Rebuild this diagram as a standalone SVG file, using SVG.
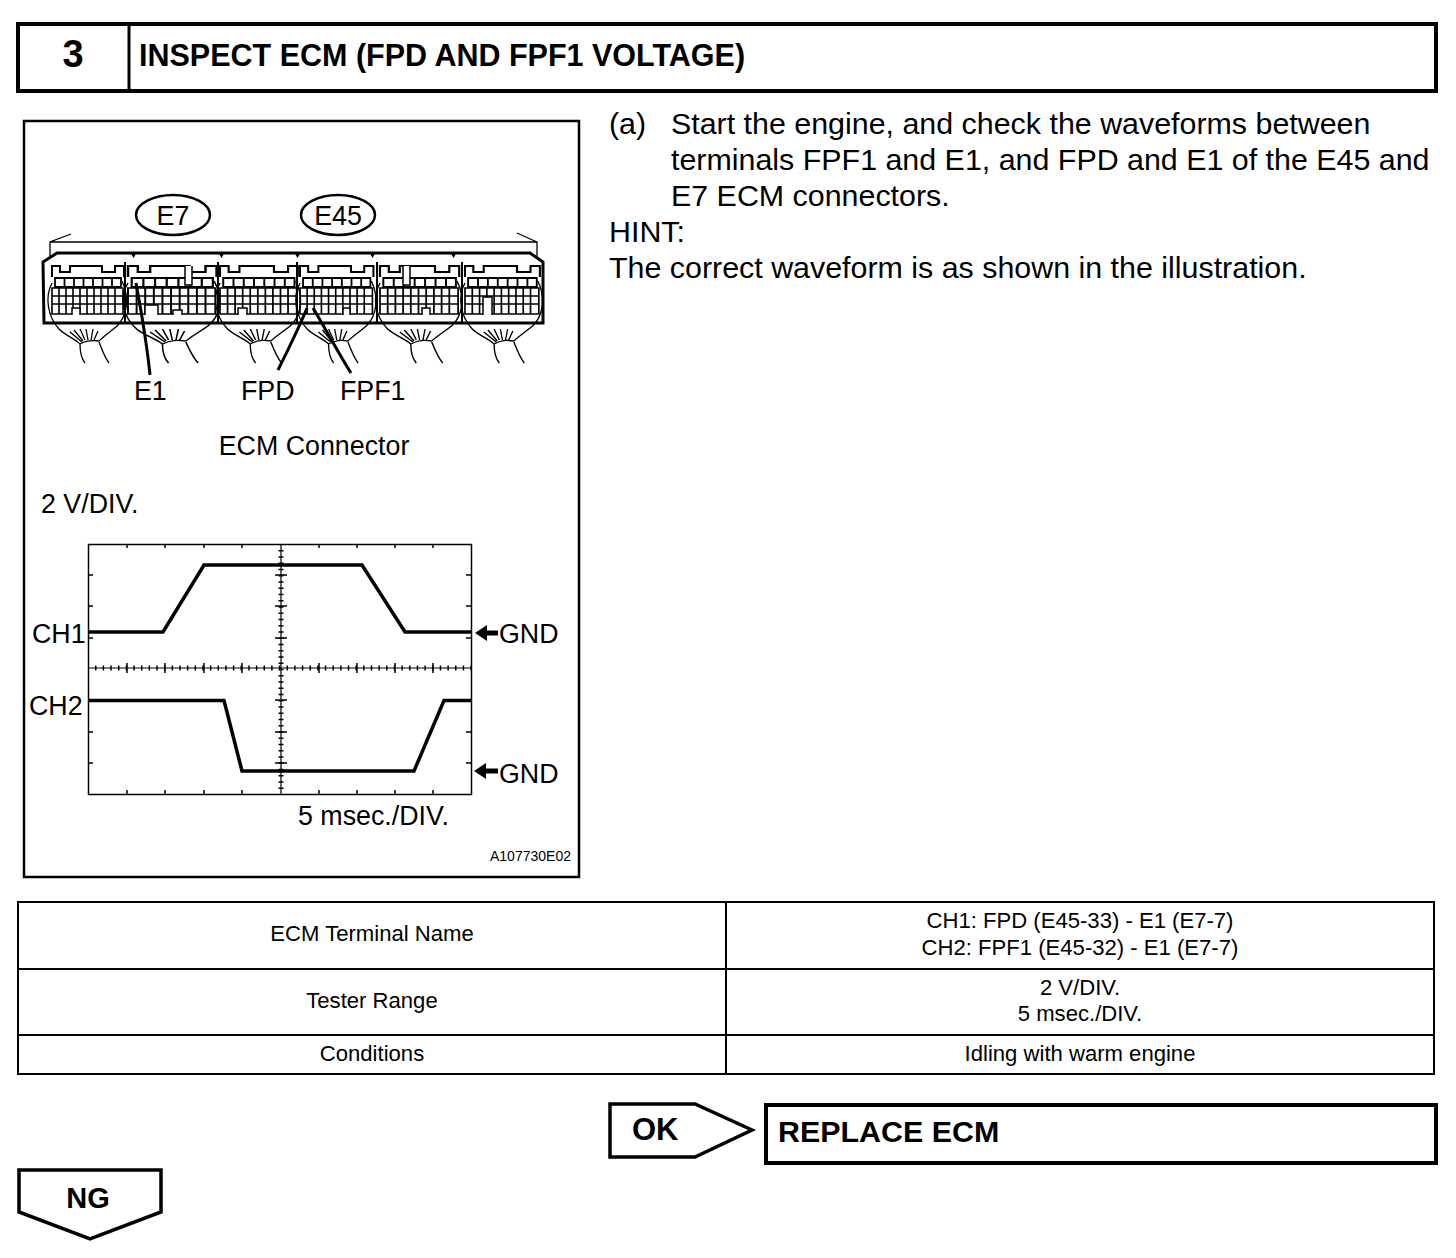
<svg xmlns="http://www.w3.org/2000/svg" width="1456" height="1258" viewBox="0 0 1456 1258">
<style>
text{font-family:"Liberation Sans",Arial,sans-serif;fill:#000}
.b{font-weight:bold}
.m{font-size:30.4px}
.d{font-size:26.8px}
.t{font-size:22.1px;text-anchor:middle}
.box{fill:#fff;stroke:#000}
.ln{fill:none;stroke:#000}
</style>
<defs>
<g id="conn" fill="none" stroke="#000">
<path stroke-width="2" d="M0,11V0H8V6H18V0H50V6H63V0H72V11"/>
<path stroke-width="1.800" d="M3,12H69V21H3ZM12.500,12V21M22,12V21M31.500,12V21M41,12V21M50.500,12V21M60,12V21"/>
<path stroke-width="1.600" d="M0,22H71V48H0ZM0,30H71M0,38H71M7,22V48M14,22V48M21,22V48M28,22V48M35,22V48M42,22V48M49,22V48M56,22V48M63,22V48"/>
<path stroke-width="1.300" d="M0,17C-7,30-5,50 7,63C14,70 22,72 28,78M70,15C78,32 75,50 65,60C58,66 52,70 47,75M28,78C35,74 40,74 47,75M28,78C28,85 29,92 33,97M47,76C50,84 53,92 57,97M30,76L18,66M31,75L22,64M33,74L28,63M36,74L34,63M39,74L41,63M42,74L46,65"/>
</g>
</defs>
<g id="header">
<rect class="box" x="18" y="24" width="1418" height="67" stroke-width="4"/>
<path class="ln" stroke-width="3" d="M129,24V91"/>
<text class="b" x="73" y="67" font-size="38" text-anchor="middle">3</text>
<text class="b" x="139" y="66" font-size="30.500">INSPECT ECM (FPD AND FPF1 VOLTAGE)</text>
</g>
<g id="illustration">
<rect class="box" x="24" y="121" width="555" height="756" stroke-width="2.500"/>
<path class="ln" stroke-width="1.300" d="M71,234L50,242V257M50,242H537V257M537,242L517,233"/>
<path class="ln" stroke-width="3" d="M57,253H530L543,262V323H44L43,262Z"/>
<path class="ln" stroke-width="2" d="M125,262V323M218,262V323M297,262V323M377,262V323M462,262V323"/>
<path d="M130,252h7l-3.500,6ZM218,252h7l-3.500,6ZM294,252h7l-3.500,6ZM369,252h7l-3.500,6ZM450,252h7l-3.500,6Z"/>
<use href="#conn" transform="translate(52,266)"/>
<use href="#conn" transform="translate(128,266) scale(1.230,1)"/>
<use href="#conn" transform="translate(220,266) scale(1.080,1)"/>
<use href="#conn" transform="translate(300,266) scale(1.020,1)"/>
<use href="#conn" transform="translate(380,266) scale(1.100,1)"/>
<use href="#conn" transform="translate(465,266) scale(1.040,1)"/>
<path fill="#fff" stroke="#000" stroke-width="1.500" d="M72,315V308H80V315M145,315V305H158V315M173,315V310H182V315M185,266V285H192V266M238,315V308H247V315M343,315V308H350V315M422,315V308H430V315M403,266V285H410V266M483,315V297H492V315"/>
<path class="ln" stroke-width="3" d="M136,283C141,310 147,345 150,375M307,308C298,330 288,350 278,370M313,308C325,328 338,352 351,373"/>
<g id="E7"><ellipse class="box" cx="173" cy="215" rx="37" ry="20" stroke-width="2.500"/><text class="d" x="173" y="225" text-anchor="middle">E7</text></g>
<g id="E45"><ellipse class="box" cx="338" cy="215" rx="37" ry="20" stroke-width="2.500"/><text class="d" x="338" y="225" text-anchor="middle">E45</text></g>
<text class="d" x="134" y="400">E1</text>
<text class="d" x="241" y="400">FPD</text>
<text class="d" x="340" y="400">FPF1</text>
<text class="d" x="314" y="455" text-anchor="middle">ECM Connector</text>
<text class="d" x="41" y="513">2 V/DIV.</text>
<g id="scope">
<rect x="88.500" y="544.500" width="383" height="250" fill="none" stroke="#000" stroke-width="1.500"/>
<path class="ln" stroke-width="1.200" d="M88,668H471M281,544V794"/>
<path class="ln" stroke-width="1.500" d="M127,544v4M165,544v4M204,544v4M242,544v4M319,544v4M357,544v4M395,544v4M433,544v4M127,794v-4M165,794v-4M204,794v-4M242,794v-4M319,794v-4M357,794v-4M395,794v-4M433,794v-4M88,575h5M88,606h5M88,638h5M88,700h5M88,732h5M88,763h5M471,575h-5M471,606h-5M471,638h-5M471,700h-5M471,732h-5M471,763h-5"/>
<path class="ln" stroke-width="1.500" d="M127,663v10M165,663v10M204,663v10M242,663v10M319,663v10M357,663v10M395,663v10M433,663v10M275,575h12M275,606h12M275,638h12M275,700h12M275,732h12M275,763h12"/>
<path class="ln" stroke-width="5" stroke-dasharray="1.500 6.160" d="M95,668H471"/>
<path class="ln" stroke-width="5" stroke-dasharray="1.500 4.750" d="M281,550V790"/>
<path class="ln" stroke-width="3.500" d="M88,632H163L204,565H362L405,632H471"/>
<path class="ln" stroke-width="3.500" d="M88,700.500H224L242,771H414L444,700.500H471"/>
<path d="M475,633L487,625V630.500H498V635.500H487V641Z"/>
<path d="M474,771L486,763V768.500H498V773.500H486V779Z"/>
<text class="d" x="32" y="643">CH1</text>
<text class="d" x="29" y="715">CH2</text>
<text class="d" x="499" y="643">GND</text>
<text class="d" x="499" y="783">GND</text>
<text class="d" x="298" y="825">5 msec./DIV.</text>
</g>
<text x="490" y="861" font-size="14">A107730E02</text>
</g>
<g id="instructions">
<text class="m" x="609" y="134">(a)</text>
<text class="m" x="671" y="134">Start the engine, and check the waveforms between</text>
<text class="m" x="671" y="170">terminals FPF1 and E1, and FPD and E1 of the E45 and</text>
<text class="m" x="671" y="206">E7 ECM connectors.</text>
<text class="m" x="609" y="242">HINT:</text>
<text class="m" x="609" y="278">The correct waveform is as shown in the illustration.</text>
</g>
<g id="table">
<rect class="box" x="18" y="902" width="1416" height="172" stroke-width="2"/>
<path class="ln" stroke-width="2" d="M18,969H1434M18,1035H1434M726,902V1074"/>
<text class="t" x="372" y="941">ECM Terminal Name</text>
<text class="t" x="1080" y="928">CH1: FPD (E45-33) - E1 (E7-7)</text>
<text class="t" x="1080" y="955">CH2: FPF1 (E45-32) - E1 (E7-7)</text>
<text class="t" x="372" y="1008">Tester Range</text>
<text class="t" x="1080" y="995">2 V/DIV.</text>
<text class="t" x="1080" y="1021">5 msec./DIV.</text>
<text class="t" x="372" y="1061">Conditions</text>
<text class="t" x="1080" y="1061">Idling with warm engine</text>
</g>
<g id="ok">
<path class="box" stroke-width="3.500" d="M610,1104H695L752,1130L695,1157H610Z"/>
<text class="b" x="632" y="1140" font-size="31">OK</text>
</g>
<g id="replace">
<rect class="box" x="766" y="1105" width="670" height="58" stroke-width="4"/>
<text class="b" x="778" y="1142" font-size="30.400">REPLACE ECM</text>
</g>
<g id="ng">
<path class="box" stroke-width="3.500" d="M19,1170H161V1212L90,1239L19,1212Z"/>
<text class="b" x="88" y="1208" font-size="29" text-anchor="middle">NG</text>
</g>
</svg>
